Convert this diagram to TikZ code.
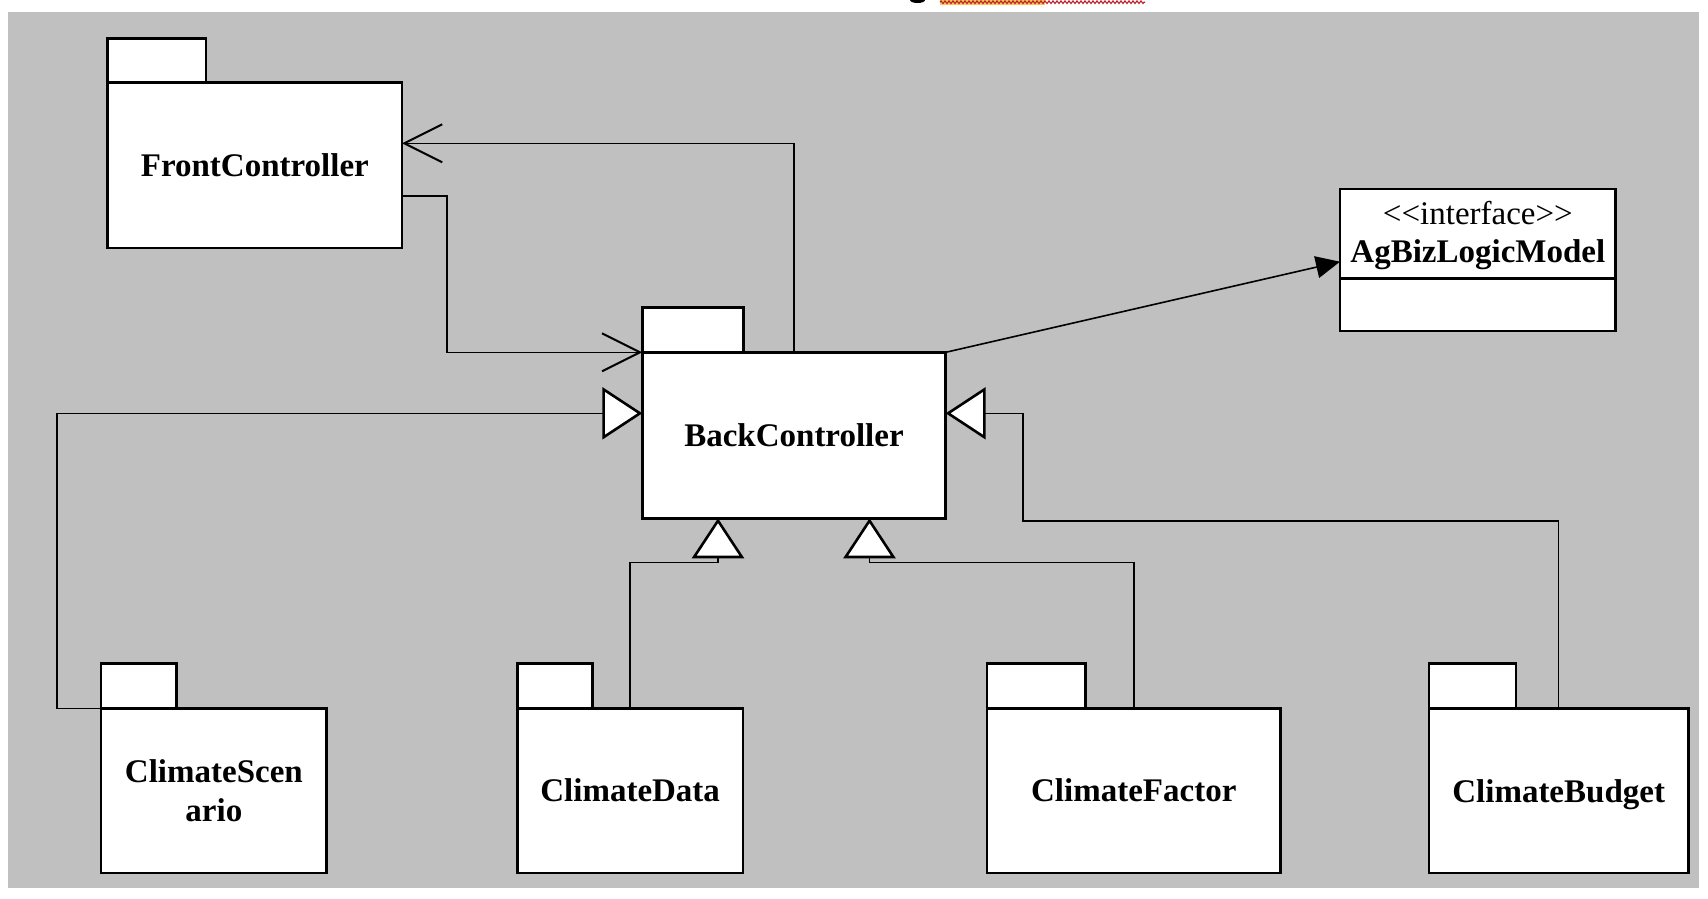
\documentclass[tikz,border=0pt]{standalone}
\usepackage{fontspec}
\setmainfont{Liberation Serif}
\usetikzlibrary{arrows.meta,decorations.pathmorphing}
\definecolor{bggrey}{RGB}{192,192,192}
\definecolor{spellbg}{RGB}{245,200,90}
\definecolor{spellred}{RGB}{190,30,40}
\begin{document}
\begin{tikzpicture}[x=1pt,y=-1pt,
  lbl/.style={font=\fontsize{33}{38.5}\selectfont\bfseries, align=center},
  pkgbody/.style={draw, fill=white, line width=2.6pt, inner sep=0pt, outer sep=0pt, lbl},
  pkgtab/.style={draw, fill=white, line width=2.6pt, inner sep=0pt, outer sep=0pt, anchor=south west, minimum height=44.6pt},
  classbox/.style={draw, fill=white, line width=2.6pt, inner sep=0pt, outer sep=0pt, minimum width=275.7pt, align=center, font=\fontsize{33}{38.5}\selectfont},
  conn/.style={line width=1.6pt},
  inherit/.style={conn, -{Triangle[length=40pt,width=52pt,fill=white,line width=2.6pt]}},
  depend/.style={conn, -{Straight Barb[length=38pt,width=38pt,line width=2pt]}},
  assoc/.style={conn, -{Triangle[length=24pt,width=22pt]}}
]
\useasboundingbox (0,0) rectangle (1708,898);
\fill[white] (0,0) rectangle (1708,898);
\fill[bggrey] (8,12) rectangle (1699,888);
% cut-off title fragment at the top
\fill[black] (917.5,0) ellipse (7.5pt and 3pt);
\fill[spellbg] (940,0) rectangle (1045,4.5);
\draw[spellred, line width=1.1pt, decorate, decoration={zigzag, segment length=4pt, amplitude=1.3pt}] (940,2.2) -- (1145,2.2);

% packages
\node[pkgbody, minimum width=294.3pt, minimum height=165.7pt] (fc) at (254.85,165.15) {FrontController};
\node[pkgtab, minimum width=98.3pt, minimum height=44pt] (fctab) at (fc.north west) {};

\node[pkgbody, minimum width=303.4pt, minimum height=166pt] (bc) at (794,435.3) {BackController};
\node[pkgtab, minimum width=101pt] (bctab) at (bc.north west) {};

\node[pkgbody, minimum width=225.7pt, minimum height=164.7pt] (cs) at (213.85,790.65) {ClimateScen\\ario};
\node[pkgtab, minimum width=75.7pt, minimum height=45pt] (cstab) at (cs.north west) {};

\node[pkgbody, minimum width=225.7pt, minimum height=164.7pt] (cd) at (630.15,790.65) {ClimateData};
\node[pkgtab, minimum width=75.1pt, minimum height=45pt] (cdtab) at (cd.north west) {};

\node[pkgbody, minimum width=293.9pt, minimum height=164.7pt] (cf) at (1133.75,790.65) {ClimateFactor};
\node[pkgtab, minimum width=98.9pt, minimum height=45pt] (cftab) at (cf.north west) {};

\node[pkgbody, minimum width=259.3pt, minimum height=164.7pt, text depth=0pt] (cb) at (1558.65,790.65) {ClimateBudget};
\node[pkgtab, minimum width=87pt, minimum height=45pt] (cbtab) at (cb.north west) {};

% interface class
\node[classbox, minimum height=89.3pt, text depth=3.5pt] (agtop) at (1477.85,233.65) {{<}{<}interface{>}{>}\\\textbf{AgBizLogicModel}};
\node[classbox, minimum height=52.7pt, anchor=north] (agbot) at (agtop.south) {};

% dependencies between controllers
\coordinate (fcin) at ([yshift=21.85pt]fc.east);
\coordinate (fcout) at ([yshift=-30.55pt]fc.east);
\draw[depend] (bc.north) |- (fcin);
\draw[depend] (fcout) -- ++(44.7,0) |- (bc.north west);

% association to interface
\draw[assoc] (bc.north east) -- ([yshift=-28.05pt]agtop.west);

% generalizations
\draw[inherit] (cs.north west) -- ++(-44.3,0) |- ([yshift=22pt]bc.west);
\coordinate (cdj) at ([xshift=-76pt,yshift=-44pt]bc.south);
\coordinate (cfj) at ([xshift=75.5pt,yshift=-44pt]bc.south);
\draw[inherit] (cd.north) |- (cdj) -- ([xshift=-76pt]bc.south);
\draw[inherit] (cf.north) |- (cfj) -- ([xshift=75.5pt]bc.south);
\draw[inherit] (cb.north) -- ++(0,-187.3) -| ([xshift=77pt,yshift=22pt]bc.east) -- ([yshift=22pt]bc.east);
\end{tikzpicture}
\end{document}
